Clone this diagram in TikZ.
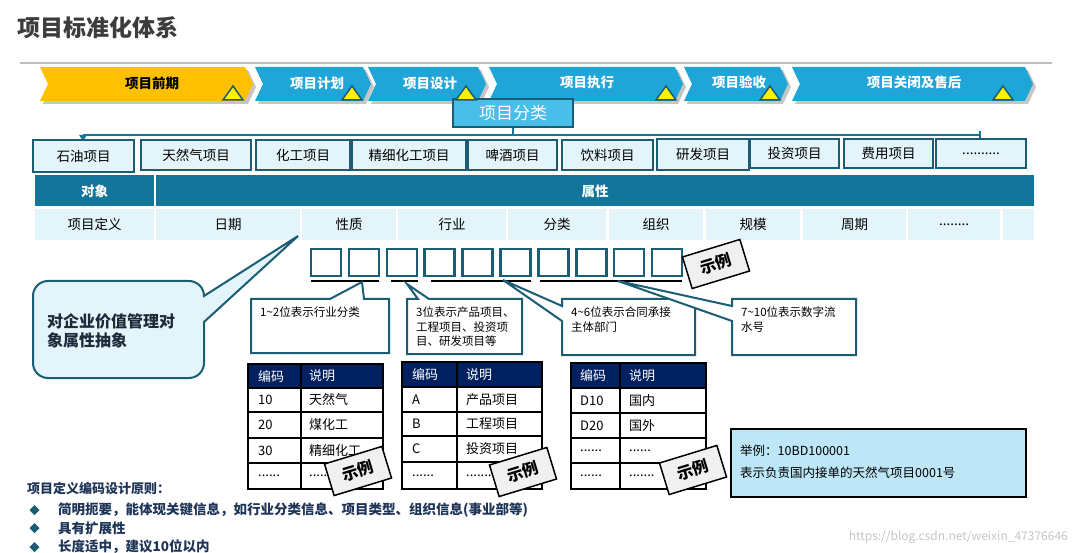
\documentclass[tikz,border=0pt]{standalone}
\usepackage{fontspec}
\setmainfont{Noto Sans CJK SC}
\usetikzlibrary{arrows.meta,calc}
\definecolor{tealb}{HTML}{1A5D74}
\definecolor{hdr}{HTML}{137599}
\definecolor{lite}{HTML}{E3F5FA}
\definecolor{chev}{HTML}{1FA5D8}
\definecolor{gold}{HTML}{FFC000}
\definecolor{clsb}{HTML}{48BEE8}
\definecolor{navy}{HTML}{002060}
\definecolor{exbg}{HTML}{BDE6F6}
\definecolor{titlec}{HTML}{3C3C3C}
\definecolor{bottomc}{HTML}{1F3558}
\definecolor{abstc}{HTML}{1C2A3A}
\newcommand\myfs[1]{\fontsize{#1}{#1}\selectfont}
\newcommand\dsix{......}
\newcommand\dseven{.......}
\newcommand\deight{........}
\newcommand\mychevs[3]{%
 \fill[gray!45] (#1+3,70) -- (#2+3,70) -- (#3+3,87) -- (#2+3,104) -- (#1+3,104) -- (#1+11,87) -- cycle;}
\newcommand\mychev[4]{%
 \fill[#4] (#1,67) -- (#2,67) -- (#3,84) -- (#2,101) -- (#1,101) -- (#1+8,84) -- cycle;}
\newcommand\mywarn[1]{\draw[tealb,line width=1.5pt,fill=yellow,line join=miter] (#1-10,100) -- (#1+10,100) -- (#1,86) -- cycle;}
\begin{document}
\begin{tikzpicture}[x=1pt,y=-1pt,
  cat/.style={draw=tealb,line width=2pt,fill=lite,inner sep=0pt,font=\myfs{13.5}},
  chevtxt/.style={font=\myfs{13.5}\bfseries,text=white,inner sep=0pt},
  hcell/.style={fill=hdr,text=white,font=\myfs{13.5}\bfseries,inner sep=0pt,minimum height=31pt},
  vcell/.style={fill=lite,font=\myfs{13.5},inner sep=0pt,minimum height=31pt},
  sq/.style={draw=tealb,line width=2.5pt,fill=white,minimum width=30pt,minimum height=27pt,inner sep=0pt},
  tag/.style={draw=black,line width=1.5pt,fill=black!6,minimum width=60pt,minimum height=33pt,inner sep=0pt,font=\myfs{16}\bfseries,rotate=17},
  ctext/.style={font=\fontsize{11.5}{14.5}\selectfont,align=left,anchor=north west,inner sep=0pt},
  ttext/.style={font=\myfs{13},anchor=west,inner sep=0pt},
  thead/.style={font=\myfs{13},anchor=west,inner sep=0pt,text=white},
  bub/.style={draw=tealb,line width=2pt,fill=white,line join=miter},
  tbl/.style={draw=black,line width=2pt},
]
\useasboundingbox (0,0) rectangle (1076,553);
\fill[white] (0,0) rectangle (1076,553);
% title
\node[anchor=west,font=\myfs{23}\bfseries,text=titlec,inner sep=0pt] (title) at (17,28) {项目标准化体系};
\draw[gray!50,line width=2pt] (20,63) -- (1052,63);
% chevrons
\mychevs{40}{245}{253}
\mychevs{255}{363}{371}
\mychevs{368}{478}{486}
\mychevs{489}{675}{683}
\mychevs{684}{780}{788}
\mychevs{792}{1025}{1033}
\mychev{40}{245}{253}{gold}
\mychev{255}{363}{371}{chev}
\mychev{368}{478}{486}{chev}
\mychev{489}{675}{683}{chev}
\mychev{684}{780}{788}{chev}
\mychev{792}{1025}{1033}{chev}
\node[chevtxt,text=black] (p1) at (152,83) {项目前期};
\node[chevtxt] (p2) at (317,83) {项目计划};
\node[chevtxt] (p3) at (430,83) {项目设计};
\node[chevtxt] (p4) at (587,82) {项目执行};
\node[chevtxt] (p5) at (739,82) {项目验收};
\node[chevtxt] (p6) at (914,82) {项目关闭及售后};
% class box
\node[draw=tealb,line width=2.5pt,fill=clsb,text=white,font=\myfs{17},minimum width=120pt,minimum height=28pt,inner sep=0pt] (cls) at (513,113) {项目分类};
\mywarn{233}
\mywarn{352}
\mywarn{466}
\mywarn{666}
\mywarn{770}
\mywarn{1003}
% bracket
\coordinate (bl) at (83,135);
\coordinate (br) at (980,135);
\draw[hdr,line width=2pt] (cls.south) |- (bl);
\draw[hdr,line width=2pt] (cls.south) |- (br);
\fill[hdr] (79,135) -- (87,135) -- (83,141) -- cycle;
\draw[hdr,line width=1.5pt] (980,131) -- (980,138);
% categories
\node[cat,line width=2.5pt,minimum width=101pt,minimum height=32pt] (c1) at (83.5,156) {石油项目};
\node[cat,minimum width=110pt,minimum height=30pt] (c2) at (196,155) {天然气项目};
\node[cat,minimum width=94pt,minimum height=30pt] (c3) at (303,155) {化工项目};
\node[cat,minimum width=114pt,minimum height=30pt] (c4) at (409,155) {精细化工项目};
\node[cat,minimum width=89pt,minimum height=30pt] (c5) at (512.5,155) {啤酒项目};
\node[cat,minimum width=91pt,minimum height=30pt] (c6) at (607.5,155) {饮料项目};
\node[cat,minimum width=92pt,minimum height=31pt] (c7) at (703,154.5) {研发项目};
\node[cat,minimum width=89pt,minimum height=29pt] (c8) at (794.5,153.5) {投资项目};
\node[cat,minimum width=89pt,minimum height=29pt] (c9) at (888.5,153.5) {费用项目};
\node[cat,minimum width=90pt,minimum height=29pt] (c10) at (981,153.5) {..........};
% attribute table
\node[hcell,minimum width=119pt] (obj) at (94.5,191) {对象};
\node[hcell,minimum width=878pt] (attr) at (595,191) {属性};
\foreach \a/\b/\t [count=\k] in {35/154/项目定义, 156/300/日期, 302/396/性质, 398/506/行业, 508/606/分类, 609/703/组织, 706/800/规模, 803/906/周期, 908/1000/\deight, 1003/1034/{}}
  \node[vcell,minimum width={(\b-\a)*1pt}] (v\k) at ({(\a+\b)/2},224.5) {\t};
% code squares
\foreach \i in {0,1,2,3,4,5,6,7,8,9}
  \node[sq] (s\i) at ({326+37.9*\i},262.5) {};
\draw[black,line width=2.5pt] (311,281) -- (379,281);
\draw[black,line width=2.5pt] (391,281) -- (418,281);
\draw[black,line width=2.5pt] (431,281) -- (531,281);
\draw[black,line width=2.5pt] (540,281) -- (682,281);
\node[tag] (tg0) at (716,264) {示例};
% main callout
\draw[draw=tealb,line width=2pt,fill=lite,line join=miter]
  (48,281) -- (189,281) .. controls (197.3,281) and (204,287.7) .. (204,296)
  -- (298,236) -- (204,322) -- (204,363) .. controls (204,371.3) and (197.3,378) .. (189,378)
  -- (48,378) .. controls (39.7,378) and (33,371.3) .. (33,363)
  -- (33,296) .. controls (33,287.7) and (39.7,281) .. (48,281) -- cycle;
\node[font=\fontsize{16}{19.5}\selectfont\bfseries,align=left,anchor=west,inner sep=0pt,text=abstc] (abs) at (47,331) {对企业价值管理对\\象属性抽象};
% small callouts
\draw[bub] (251,299) -- (330,299) -- (362,282) -- (364,299) -- (389,299) -- (389,353) -- (251,353) -- cycle;
\node[ctext] (ta) at (260,307) {1\textasciitilde2位表示行业分类};
\draw[bub] (407,299) -- (418,299) -- (407,284) -- (429,299) -- (522,299) -- (522,354) -- (407,354) -- cycle;
\node[ctext] (tb) at (416,307) {3位表示产品项目、\\工程项目、投资项\\目、研发项目等};
\draw[bub] (562,299) -- (695,299) -- (695,355) -- (562,355) -- (562,321) -- (503,280) -- (562,306) -- cycle;
\node[ctext] (tc) at (571,307) {4\textasciitilde6位表示合同承接\\主体部门};
\draw[bub] (732,299) -- (856,299) -- (856,355) -- (732,355) -- (732,321) -- (618,281) -- (732,306) -- cycle;
\node[ctext] (td) at (741,307) {7\textasciitilde10位表示数字流\\水号};
% table 1
\fill[navy] (248,364) rectangle (383,388);
\draw[tbl] (248,364) rectangle (383,489);
\foreach \y in {388,412,438,463} \draw[tbl] (248,\y) -- (383,\y);
\draw[tbl] (301,364) -- (301,489);
\node[thead] (h1a) at (258,376) {编码};
\node[thead] (h1b) at (309,376) {说明};
\foreach \y/\p/\q [count=\k] in {400/10/天然气, 425/20/煤化工, 450.5/30/精细化工, 476/\dsix/\dsix}
  {\node[ttext] (ta\k) at (258,\y) {\p}; \node[ttext] (tb\k) at (309,\y) {\q};}
% table 2
\fill[navy] (402,362) rectangle (542,387);
\draw[tbl] (402,362) rectangle (542,489);
\foreach \y in {387,412,436,462} \draw[tbl] (402,\y) -- (542,\y);
\draw[tbl] (457,362) -- (457,489);
\node[thead] (h2a) at (412,374.5) {编码};
\node[thead] (h2b) at (466,374.5) {说明};
\foreach \y/\p/\q [count=\k] in {399.5/A/产品项目, 424/B/工程项目, 449/C/投资项目, 475.5/\dsix/\dseven}
  {\node[ttext] (tc\k) at (412,\y) {\p}; \node[ttext] (td\k) at (466,\y) {\q};}
% table 3
\fill[navy] (571,363) rectangle (706,388);
\draw[tbl] (571,363) rectangle (706,489);
\foreach \y in {388,413,438,463} \draw[tbl] (571,\y) -- (706,\y);
\draw[tbl] (620,363) -- (620,489);
\node[thead] (h3a) at (580,375.5) {编码};
\node[thead] (h3b) at (629,375.5) {说明};
\foreach \y/\p/\q [count=\k] in {400.5/D10/国内, 425.5/D20/国外, 450.5/\dsix/\dsix, 476/\dsix/\dseven}
  {\node[ttext] (te\k) at (580,\y) {\p}; \node[ttext] (tf\k) at (629,\y) {\q};}
% tags on tables
\node[tag] (tg1) at (358,471) {示例};
\node[tag] (tg2) at (523,472) {示例};
\node[tag] (tg3) at (693,470) {示例};
% example box
\node[draw=black,line width=2pt,fill=exbg,minimum width=295pt,minimum height=68pt,inner sep=0pt] (ex) at (878.5,463) {};
\node[anchor=west,font=\myfs{12.5},inner sep=0pt] (ex1) at (740,451) {举例：10BD100001};
\node[anchor=west,font=\myfs{12.5},inner sep=0pt] (ex2) at (740,473) {表示负责国内接单的天然气项目0001号};
% principles
\node[anchor=west,font=\myfs{13}\bfseries,text=bottomc,inner sep=0pt] (pr) at (27,489) {项目定义编码设计原则：};
\foreach \y/\t [count=\k] in {510/简明扼要，能体现关键信息，如行业分类信息、项目类型、组织信息(事业部等), 528/具有扩展性, 547/长度适中，建议10位以内}
  {\fill[tealb] (34.5,\y-5) -- (39.5,\y) -- (34.5,\y+5) -- (29.5,\y) -- cycle;
   \node[anchor=west,font=\myfs{13.5}\bfseries,text=bottomc,inner sep=0pt] (pl\k) at (58,\y) {\t};}
% watermark
\node[anchor=east,font=\myfs{12},text=gray!45,inner sep=0pt] (wm) at (1068,537) {https://blog.csdn.net/weixin\_47376646};
\end{tikzpicture}
\end{document}
